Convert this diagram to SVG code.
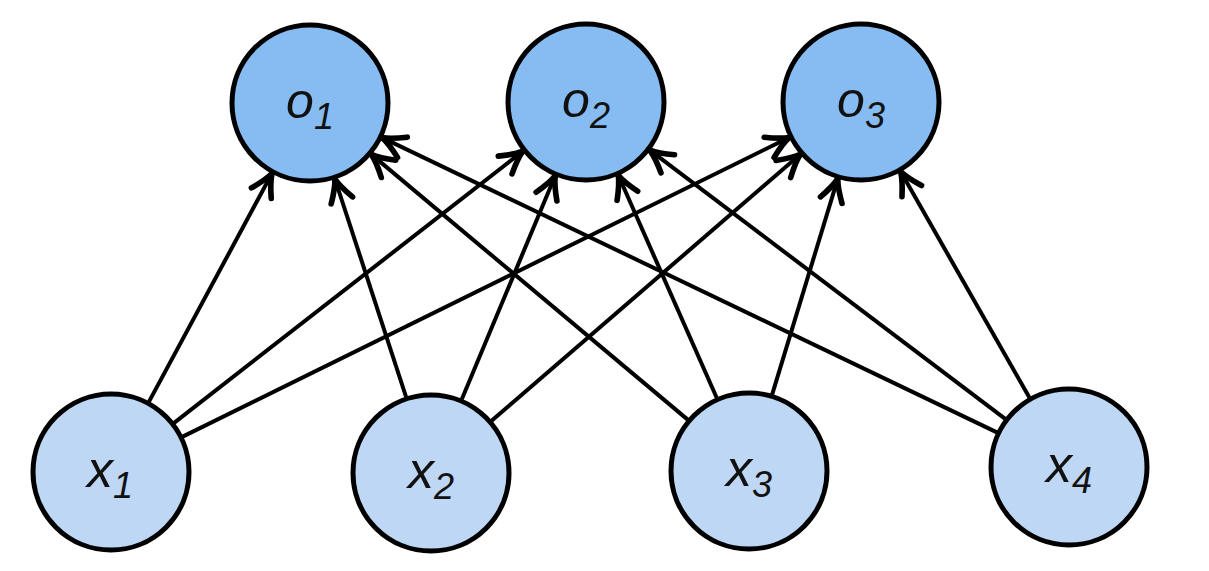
<svg xmlns="http://www.w3.org/2000/svg" width="1209" height="571" viewBox="0 0 1209 571">
<style>
.out circle{fill:#86bcf1;stroke:#000;stroke-width:5}
.in circle{fill:#bdd7f5;stroke:#000;stroke-width:5}
text{font-family:"Liberation Sans",Arial,sans-serif;font-style:italic;fill:#111;text-anchor:middle}
.o{font-size:50px}
.x{font-size:52px}
.sub{font-size:36px}
#edges line{stroke:#000;stroke-width:4;marker-end:url(#arr)}
</style>
<defs>
<marker id="arr" markerUnits="userSpaceOnUse" orient="auto" markerWidth="30" markerHeight="30" viewBox="-20 -12 24 24" refX="0" refY="0" overflow="visible">
<path d="M-18,-9 Q-7,-2 0,0 Q-7,2 -18,9" fill="none" stroke="#000" stroke-width="4.5" stroke-linecap="round"/>
</marker>
</defs>
<rect width="1209" height="571" fill="#fff"/>
<g id="edges">
<line x1="149.0" y1="401.6" x2="272.0" y2="173.4"/>
<line x1="174.1" y1="422.8" x2="522.9" y2="151.2"/>
<line x1="182.7" y1="436.6" x2="789.3" y2="137.4"/>
<line x1="406.1" y1="397.0" x2="334.9" y2="179.0"/>
<line x1="461.8" y1="399.2" x2="555.2" y2="175.8"/>
<line x1="491.6" y1="420.7" x2="800.4" y2="154.3"/>
<line x1="687.7" y1="419.6" x2="371.3" y2="154.4"/>
<line x1="716.7" y1="397.8" x2="618.3" y2="175.2"/>
<line x1="772.2" y1="394.4" x2="837.8" y2="178.6"/>
<line x1="996.9" y1="432.4" x2="382.1" y2="137.6"/>
<line x1="1005.2" y1="418.8" x2="649.8" y2="150.2"/>
<line x1="1029.4" y1="397.5" x2="900.6" y2="171.5"/>
</g>
<g id="o1" class="out"><circle cx="310" cy="103" r="78"/><text class="o" x="310" y="118">o<tspan class="sub" dy="11">1</tspan></text></g>
<g id="o2" class="out"><circle cx="586" cy="102" r="78"/><text class="o" x="586" y="117">o<tspan class="sub" dy="11">2</tspan></text></g>
<g id="o3" class="out"><circle cx="861" cy="102" r="78"/><text class="o" x="861" y="117">o<tspan class="sub" dy="11">3</tspan></text></g>
<g id="x1" class="in"><circle cx="111" cy="472" r="78"/><text class="x" x="110" y="487">x<tspan class="sub" dy="11">1</tspan></text></g>
<g id="x2" class="in"><circle cx="431" cy="473" r="78"/><text class="x" x="431" y="488">x<tspan class="sub" dy="11">2</tspan></text></g>
<g id="x3" class="in"><circle cx="749" cy="471" r="78"/><text class="x" x="749" y="486">x<tspan class="sub" dy="11">3</tspan></text></g>
<g id="x4" class="in"><circle cx="1069" cy="467" r="78"/><text class="x" x="1069" y="482">x<tspan class="sub" dy="11">4</tspan></text></g>
</svg>
